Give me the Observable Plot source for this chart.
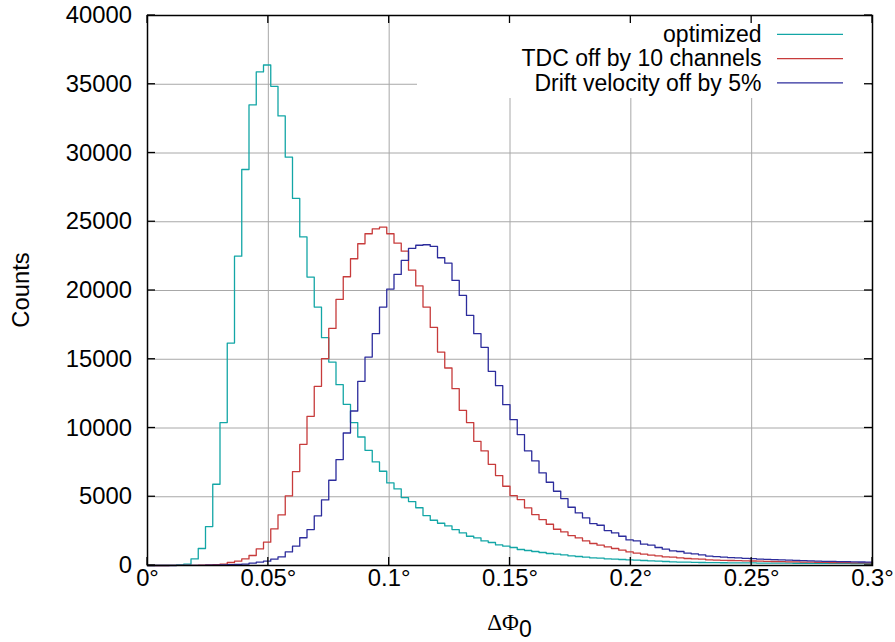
<!DOCTYPE html>
<html>
<head>
<meta charset="utf-8">
<script src="https://cdn.jsdelivr.net/npm/d3@7"></script>
<script src="https://cdn.jsdelivr.net/npm/@observablehq/plot@0.6"></script>
<style>
html, body { margin: 0; padding: 0; background: #fff; }
#chart svg { display: block; }
</style>
</head>
<body>
<div id="chart"></div>
<script>
// ---- data ----
const seriesNames = ["optimized", "TDC off by 10 channels", "Drift velocity off by 5%"];
const seriesColors = ["#13a6a6", "#c73b3b", "#2c2c9c"];
const binWidth = 0.003; // histogram bin width in degrees (100 bins over 0..0.3)

const optimized = [
  0, 2, 5, 12, 35, 100, 480, 1235, 2834, 5908,
  10392, 16177, 22500, 28800, 33500, 35900, 36400, 34850, 32700, 29700,
  26700, 23900, 20975, 18795, 16570, 14797, 13152, 11722, 10391, 9346,
  8379, 7530, 6853, 6003, 5567, 4941, 4650, 4200, 3633, 3292,
  3074, 2878, 2616, 2369, 2129, 2006, 1788, 1671, 1497, 1403,
  1308, 1163, 1090, 1017, 945, 872, 821, 770, 698, 654,
  603, 552, 530, 480, 458, 436, 407, 385, 363, 334,
  312, 290, 262, 250, 240, 230, 218, 210, 205, 200,
  196, 192, 188, 184, 180, 177, 174, 171, 168, 165,
  162, 160, 157, 155, 153, 150, 148, 146, 144, 142
];
const tdcOff = [
  0, 0, 1, 2, 4, 8, 15, 25, 40, 65,
  100, 218, 312, 480, 727, 1206, 1693, 2660, 3677, 5058,
  6831, 8815, 10850, 13030, 15040, 17245, 19352, 21001, 22309, 23399,
  24126, 24489, 24606, 24126, 23443, 22862, 21480, 20330, 18795, 17317,
  15525, 14362, 12862, 11286, 10391, 9033, 8330, 7361, 6540, 5763,
  5087, 4796, 4186, 3706, 3343, 3001, 2638, 2442, 2180, 2006,
  1788, 1599, 1475, 1352, 1235, 1112, 988, 894, 821, 748,
  698, 625, 603, 552, 509, 480, 458, 407, 395, 380,
  362, 350, 338, 326, 312, 300, 290, 280, 268, 258,
  250, 240, 232, 225, 216, 210, 204, 198, 192, 186
];
const driftOff = [
  0, 0, 0, 1, 2, 4, 7, 12, 20, 30,
  40, 55, 75, 100, 167, 240, 312, 458, 625, 990,
  1403, 2020, 2616, 3607, 4770, 6199, 7703, 9637, 11237, 13393,
  15159, 16859, 18793, 20101, 21169, 22186, 23070, 23290, 23327, 23203,
  22382, 21990, 20733, 19643, 18189, 16859, 15864, 14120, 13081, 11700,
  10610, 9520, 8330, 7603, 6730, 6053, 5399, 4869, 4237, 3823,
  3459, 3052, 2929, 2543, 2369, 2129, 1860, 1788, 1548, 1475,
  1308, 1185, 1061, 1017, 894, 843, 770, 676, 640, 610,
  580, 550, 520, 495, 470, 450, 425, 405, 385, 370,
  350, 335, 320, 305, 295, 285, 275, 265, 255, 245
];

const xTicks = [0, 0.05, 0.1, 0.15, 0.2, 0.25, 0.3];
const xTickLabels = ["0°", "0.05°", "0.1°", "0.15°", "0.2°", "0.25°", "0.3°"];
const yTicks = [0, 5000, 10000, 15000, 20000, 25000, 30000, 35000, 40000];
const yTickLabels = ["0", "5000", "10000", "15000", "20000", "25000", "30000", "35000", "40000"];

// histogram rows: one point per bin start plus the closing edge
function steps(values, name) {
  const rows = values.map((v, i) => ({x: i * binWidth, y: v, s: name}));
  rows.push({x: values.length * binWidth, y: values[values.length - 1], s: name});
  return rows;
}
const allSeries = [optimized, tdcOff, driftOff];

(function () {
const W = 895, H = 642;
const FONT = "'Liberation Sans', Arimo, Arial, Helvetica, sans-serif";
const FS = 23.8;
const LFS = 23;

const plot = Plot.plot({
  width: W, height: H,
  marginLeft: 147, marginRight: 23, marginTop: 15, marginBottom: 77,
  x: {domain: [0, 0.3], axis: null},
  y: {domain: [0, 40000], axis: null},
  style: {fontFamily: FONT, fontSize: FS + "px", background: "#fff", color: "#000", overflow: "visible"},
  marks: [
    Plot.ruleX(xTicks, {x: d => d, stroke: "#a8a8a8", strokeWidth: 1}),
    Plot.ruleY(yTicks, {y: d => d, stroke: "#a8a8a8", strokeWidth: 1}),
    ...allSeries.map((vals, k) =>
      Plot.line(steps(vals, seriesNames[k]), {
        x: "x", y: "y", curve: "step-after",
        stroke: seriesColors[k], strokeWidth: 1.3
      })
    ),
    Plot.text(xTicks, {x: d => d, text: (d, i) => xTickLabels[i], frameAnchor: "bottom", dy: 20, fill: "#000"}),
    Plot.text(yTicks, {y: d => d, text: (d, i) => yTickLabels[i], frameAnchor: "left", dx: -15.5, textAnchor: "end", fill: "#000"}),
    Plot.frame({stroke: "#000", strokeWidth: 1.5})
  ]
});

document.getElementById("chart").appendChild(plot);

// ---- decorations in the gnuplot style ----
const sx = plot.scale("x"), sy = plot.scale("y");
const X = d3.scaleLinear(sx.domain, sx.range);
const Y = d3.scaleLinear(sy.domain, sy.range);
const svg = d3.select(plot);
const fLeft = X(0), fRight = X(0.3), fBottom = Y(0), fTop = Y(40000);

// legend box (opaque, hides grid behind it), inserted below the data lines
const groups = plot.querySelectorAll(":scope > g");
const legendNode = document.createElementNS("http://www.w3.org/2000/svg", "g");
plot.insertBefore(legendNode, groups[2] || null);
const legend = d3.select(legendNode);
const boxRight = fRight - 1, boxLeft = boxRight - 454, boxTop = fTop + 1;
legend.append("rect")
  .attr("x", boxLeft).attr("y", boxTop)
  .attr("width", boxRight - boxLeft).attr("height", 82)
  .attr("fill", "#fff");
seriesNames.forEach((name, k) => {
  const ly = boxTop + 18.3 + k * 24.3;
  legend.append("line")
    .attr("x1", boxRight - 94).attr("x2", boxRight - 28)
    .attr("y1", ly).attr("y2", ly)
    .attr("stroke", seriesColors[k]).attr("stroke-width", 1.3);
  legend.append("text")
    .attr("x", boxRight - 109.5).attr("y", ly + 7.6)
    .attr("text-anchor", "end")
    .attr("font-family", FONT).attr("font-size", LFS)
    .attr("textLength", null)
    .attr("fill", "#000")
    .text(name);
});

// inward ticks on all four sides
const tickG = svg.append("g").attr("stroke", "#000").attr("stroke-width", 1.3);
const TL = 8;
xTicks.forEach(t => {
  const x = X(t);
  tickG.append("line").attr("x1", x).attr("x2", x).attr("y1", fBottom).attr("y2", fBottom - TL);
  tickG.append("line").attr("x1", x).attr("x2", x).attr("y1", fTop).attr("y2", fTop + TL);
});
yTicks.forEach(t => {
  const y = Y(t);
  tickG.append("line").attr("x1", fLeft).attr("x2", fLeft + TL).attr("y1", y).attr("y2", y);
  tickG.append("line").attr("x1", fRight).attr("x2", fRight - TL).attr("y1", y).attr("y2", y);
});

// axis titles
const xl = svg.append("text")
  .attr("x", (fLeft + fRight) / 2).attr("y", 630)
  .attr("text-anchor", "middle")
  .attr("font-size", 23).attr("fill", "#000");
xl.append("tspan").attr("font-family", "'Liberation Serif', 'Times New Roman', serif").text("ΔΦ");
xl.append("tspan").attr("font-family", FONT).attr("dy", 6.5).text("0");

svg.append("text")
  .attr("transform", `translate(29,${(fTop + fBottom) / 2}) rotate(-90)`)
  .attr("text-anchor", "middle")
  .attr("font-family", FONT).attr("font-size", FS).attr("fill", "#000")
  .text("Counts");
})();
</script>
</body>
</html>
